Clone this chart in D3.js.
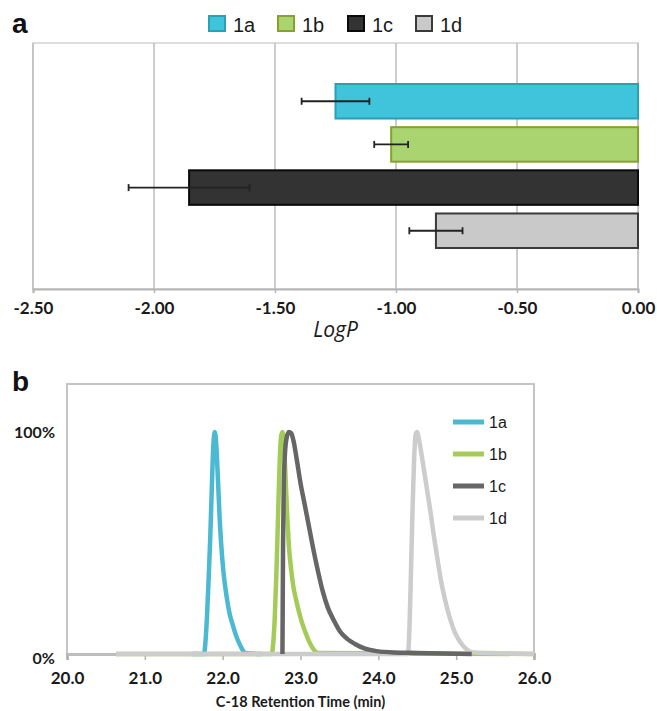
<!DOCTYPE html>
<html><head><meta charset="utf-8">
<script src="https://cdn.jsdelivr.net/npm/d3@7"></script>
<style>body{margin:0;background:#fff}svg{display:block}</style>
</head><body>
<script>
// ---------- Panel a data ----------
const compounds = ["1a", "1b", "1c", "1d"];
const logP = [-1.25, -1.02, -1.855, -0.835];
const logPErr = [0.14, 0.07, 0.25, 0.11];
const logPTicks = [-2.5, -2.0, -1.5, -1.0, -0.5, 0.0];

// ---------- Panel b data (retention time, relative intensity) ----------
const rtTicks = [20, 21, 22, 23, 24, 25, 26];
const pctTicks = [0, 1];
const pctLabels = ["0%", "100%"];
const time1a = [21.60, 21.76, 21.78, 21.80, 21.82, 21.84, 21.86, 21.88, 21.90, 21.92, 21.94, 21.96, 21.98, 22.01, 22.05, 22.09, 22.13, 22.17, 22.21, 22.25, 22.29, 22.50];
const int1a  = [0, 0, 0.06, 0.18, 0.34, 0.52, 0.74, 0.94, 1.0, 0.93, 0.78, 0.62, 0.50, 0.37, 0.26, 0.18, 0.13, 0.085, 0.05, 0.022, 0.005, 0];
const time1b = [20.63, 22.63, 22.65, 22.67, 22.69, 22.71, 22.73, 22.75, 22.77, 22.79, 22.81, 22.83, 22.85, 22.88, 22.91, 22.94, 22.98, 23.02, 23.06, 23.10, 23.15, 23.23, 26.0];
const int1b  = [0, 0, 0.05, 0.17, 0.36, 0.60, 0.84, 0.98, 1.0, 0.93, 0.78, 0.62, 0.49, 0.38, 0.30, 0.25, 0.19, 0.14, 0.10, 0.065, 0.03, 0.005, 0];
const time1c = [22.768, 22.776, 22.785, 22.80, 22.82, 22.85, 22.88, 22.91, 22.95, 23.00, 23.05, 23.10, 23.16, 23.22, 23.28, 23.35, 23.43, 23.51, 23.60, 23.70, 23.82, 23.98, 24.20, 24.50, 25.20];
const int1c  = [0, 0.50, 0.76, 0.90, 0.97, 1.0, 0.995, 0.96, 0.88, 0.77, 0.68, 0.59, 0.48, 0.38, 0.29, 0.21, 0.15, 0.10, 0.068, 0.045, 0.025, 0.013, 0.007, 0.005, 0];
const time1d = [20.63, 24.38, 24.40, 24.42, 24.44, 24.46, 24.48, 24.50, 24.52, 24.55, 24.59, 24.63, 24.67, 24.71, 24.75, 24.80, 24.86, 24.92, 24.98, 25.05, 25.12, 25.20, 26.0];
const int1d  = [0, 0, 0.12, 0.38, 0.66, 0.88, 0.99, 1.0, 0.97, 0.91, 0.82, 0.73, 0.64, 0.54, 0.45, 0.34, 0.24, 0.16, 0.10, 0.055, 0.025, 0.008, 0];

// ---------- styles ----------
const barFill   = ["#40c4dc", "#a9d46f", "#333333", "#c9c9c9"];
const barStroke = ["#2a9fb5", "#86a22a", "#0a0a0a", "#3a3a3a"];
const lineColor = ["#4bb9d1", "#a4cb57", "#666666", "#cccccc"];
const traces = [[time1a, int1a], [time1b, int1b], [time1c, int1c], [time1d, int1d]];
const drawOrder = [0, 1, 3, 2];

const W = 657, H = 711;
const svg = d3.select("body").append("svg").attr("width", W).attr("height", H);
const txt = "#1a1a1a";

// ================= Panel a =================
svg.append("text").attr("x", 12).attr("y", 33).text("a")
  .attr("font-family", "Liberation Sans, Arial, sans-serif").attr("font-weight", "bold")
  .attr("font-size", 28).attr("fill", "#111");

const xa = d3.scaleLinear().domain([-2.5, 0]).range([33, 638]);
const ya = d3.scaleBand().domain(compounds).range([43, 289]).paddingInner(0.2).paddingOuter(0.95);

const ga = svg.append("g");
ga.append("rect").attr("x", xa(-2.5)).attr("y", 43).attr("width", xa(0) - xa(-2.5)).attr("height", 289 - 43)
  .attr("fill", "none").attr("stroke", "#d2d2d2").attr("stroke-width", 1.5);
ga.selectAll("line.grid").data(logPTicks).join("line").attr("class", "grid")
  .attr("x1", d => xa(d)).attr("x2", d => xa(d)).attr("y1", 43).attr("y2", 289)
  .attr("stroke", "#bdbdbd").attr("stroke-width", 1.5);

const axA = ga.append("g").attr("transform", "translate(0,289)")
  .call(d3.axisBottom(xa).tickValues(logPTicks).tickFormat(d => d.toFixed(2)).tickSize(4).tickPadding(9));
axA.select(".domain").attr("stroke", "#b5b5b5").attr("stroke-width", 2);
axA.selectAll(".tick line").attr("stroke", "#b5b5b5").attr("stroke-width", 1.5);
axA.selectAll(".tick text").attr("font-family", "Lato, sans-serif").attr("font-weight", "bold")
  .attr("font-size", 17).attr("fill", txt);

ga.selectAll("rect.bar").data(compounds).join("rect").attr("class", "bar")
  .attr("x", (d, i) => xa(logP[i])).attr("y", d => ya(d))
  .attr("width", (d, i) => xa(0) - xa(logP[i])).attr("height", ya.bandwidth())
  .attr("fill", (d, i) => barFill[i]).attr("stroke", (d, i) => barStroke[i]).attr("stroke-width", 2);

const eb = ga.selectAll("g.err").data(compounds).join("g").attr("class", "err")
  .attr("stroke", "#222").attr("stroke-width", 1.8);
eb.append("line").attr("x1", (d, i) => xa(logP[i] - logPErr[i])).attr("x2", (d, i) => xa(logP[i] + logPErr[i]))
  .attr("y1", d => ya(d) + ya.bandwidth() / 2).attr("y2", d => ya(d) + ya.bandwidth() / 2);
eb.append("line").attr("x1", (d, i) => xa(logP[i] - logPErr[i])).attr("x2", (d, i) => xa(logP[i] - logPErr[i]))
  .attr("y1", d => ya(d) + ya.bandwidth() / 2 - 3.5).attr("y2", d => ya(d) + ya.bandwidth() / 2 + 3.5);
eb.append("line").attr("x1", (d, i) => xa(logP[i] + logPErr[i])).attr("x2", (d, i) => xa(logP[i] + logPErr[i]))
  .attr("y1", d => ya(d) + ya.bandwidth() / 2 - 3.5).attr("y2", d => ya(d) + ya.bandwidth() / 2 + 3.5);

svg.append("text").attr("x", (xa(-2.5) + xa(0)) / 2).attr("y", 337).attr("text-anchor", "middle")
  .attr("font-family", "Open Sans, sans-serif").attr("font-style", "italic").attr("font-size", 21)
  .attr("fill", txt).text("LogP");

// legend a
const la = svg.append("g");
const legX = [208, 277, 347, 415];
compounds.forEach((c, i) => {
  la.append("rect").attr("x", legX[i] + 1).attr("y", 16).attr("width", 16).attr("height", 15)
    .attr("fill", barFill[i]).attr("stroke", barStroke[i]).attr("stroke-width", 2);
  la.append("text").attr("x", legX[i] + 25).attr("y", 32).text(c)
    .attr("font-family", "Liberation Sans, Arial, sans-serif").attr("font-size", 20).attr("fill", txt);
});

// ================= Panel b =================
svg.append("text").attr("x", 12).attr("y", 391).text("b")
  .attr("font-family", "Liberation Sans, Arial, sans-serif").attr("font-weight", "bold")
  .attr("font-size", 28).attr("fill", "#111");

const xb = d3.scaleLinear().domain([20, 26]).range([67, 534]);
const yb = d3.scaleLinear().domain([0, 1.216]).range([654, 384]);

const gb = svg.append("g");
gb.append("rect").attr("x", xb(20)).attr("y", yb(1.216)).attr("width", xb(26) - xb(20)).attr("height", yb(0) - yb(1.216))
  .attr("fill", "none").attr("stroke", "#c4c4c4").attr("stroke-width", 2);

const axB = gb.append("g").attr("transform", `translate(0,${yb(0)})`)
  .call(d3.axisBottom(xb).tickValues(rtTicks).tickFormat(d3.format(".1f")).tickSize(6).tickPadding(12));
axB.select(".domain").attr("stroke", "#bdbdbd").attr("stroke-width", 3);
axB.selectAll(".tick line").attr("stroke", "#b0b0b0").attr("stroke-width", 1.5);
axB.selectAll(".tick text").attr("font-family", "Lato, sans-serif").attr("font-weight", "bold")
  .attr("font-size", 17).attr("fill", txt);

gb.selectAll("text.ylab").data(pctTicks).join("text").attr("class", "ylab")
  .attr("x", 55).attr("y", d => yb(d) + (d === 0 ? 10 : 6)).attr("text-anchor", "end")
  .attr("font-family", "Lato, sans-serif").attr("font-weight", "bold").attr("font-size", 16)
  .attr("fill", txt).text((d, i) => pctLabels[i]);

const line = d3.line().x(d => xb(d[0])).y(d => yb(d[1])).curve(d3.curveMonotoneX);
drawOrder.forEach(i => {
  const tr = traces[i];
  const pts = tr[0].map((t, k) => [t, tr[1][k]]);
  gb.append("path").datum(pts).attr("d", line).attr("fill", "none")
    .attr("stroke", lineColor[i]).attr("stroke-width", 4.5).attr("stroke-linejoin", "round");
});

svg.append("text").attr("x", (xb(20) + xb(26)) / 2).attr("y", 707).attr("text-anchor", "middle")
  .attr("font-family", "Lato, sans-serif").attr("font-weight", "bold").attr("font-size", 14.5)
  .attr("fill", txt).text("C-18 Retention Time (min)");

// legend b
const legY = [422, 454, 486, 518];
compounds.forEach((c, i) => {
  gb.append("line").attr("x1", 453).attr("x2", 484).attr("y1", legY[i]).attr("y2", legY[i])
    .attr("stroke", lineColor[i]).attr("stroke-width", 5);
  gb.append("text").attr("x", 489).attr("y", legY[i] + 6).text(c)
    .attr("font-family", "Liberation Sans, Arial, sans-serif").attr("font-size", 16).attr("fill", txt);
});
</script>
</body></html>
